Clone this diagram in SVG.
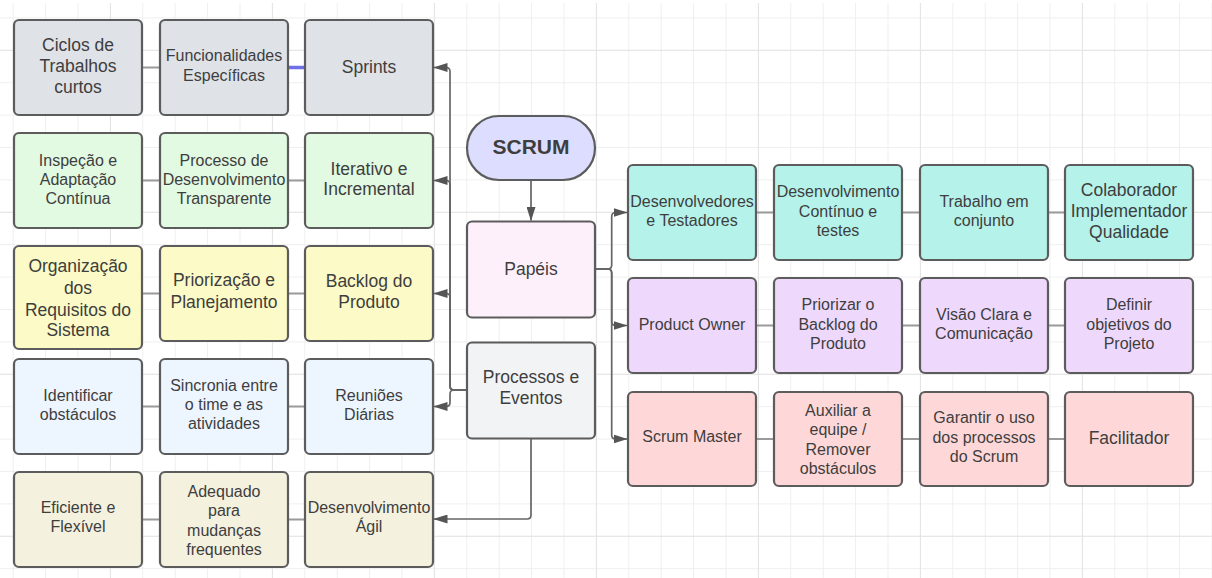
<svg xmlns="http://www.w3.org/2000/svg" width="1212" height="578" viewBox="0 0 1212 578">
<style>
.box{stroke:#5c5c5c;stroke-width:2.2}
.t{font-family:"Liberation Sans",Arial,sans-serif;fill:#3e3e3e;text-anchor:middle}
.s16{font-size:16px}
.s17{font-size:17.5px}
.b{font-weight:bold;font-size:21px}
.gray{fill:#dfe2e7}.green{fill:#e2f9e2}.yellow{fill:#fcfac6}.blue{fill:#edf5ff}.beige{fill:#f4f1df}
.teal{fill:#b5f2ea}.purple{fill:#eed9fd}.pink{fill:#fed8d8}
.link{stroke:#9a9a9a;stroke-width:2;fill:none}
.conn{stroke:#666;stroke-width:1.7;fill:none}
</style>
<defs>
<pattern id="gmin" patternUnits="userSpaceOnUse" x="12.7" y="17.4" width="32.4" height="32.4">
<path d="M0.5,0 V32.4 M0,0.5 H32.4" stroke="#efefef" stroke-width="1" fill="none"/>
</pattern>
<pattern id="gmaj" patternUnits="userSpaceOnUse" x="109.9" y="49.8" width="162" height="162">
<path d="M0.5,0 V162 M0,0.5 H162" stroke="#e4e4e4" stroke-width="1" fill="none"/>
</pattern>
<marker id="arr" markerUnits="userSpaceOnUse" viewBox="0 0 14 9" markerWidth="14" markerHeight="9" refX="13.5" refY="4.5" orient="auto">
<path d="M0,0 L14,4.5 L0,9 Z" fill="#555"/>
</marker>
</defs>
<rect width="1212" height="578" fill="#ffffff"/>
<rect y="3" width="1212" height="575" fill="url(#gmin)"/>
<rect y="3" width="1212" height="575" fill="url(#gmaj)"/>

<g id="connectors">
<path class="link" d="M143,67.5 H159"/>
<path d="M289,67.5 H304" stroke="#6f6fe6" stroke-width="3.5" fill="none"/>
<path class="link" d="M143,180.5 H159 M289,180.5 H304"/>
<path class="link" d="M143,293.5 H159 M289,293.5 H304"/>
<path class="link" d="M143,406.5 H159 M289,406.5 H304"/>
<path class="link" d="M143,519.5 H159 M289,519.5 H304"/>
<path class="link" d="M757,212.5 H773 M903,212.5 H919 M1048,212.5 H1064"/>
<path class="link" d="M757,325.5 H773 M903,325.5 H919 M1048,325.5 H1064"/>
<path class="link" d="M757,439 H773 M903,439 H919 M1048,439 H1064"/>
<path class="conn" d="M531,181 V220.5" marker-end="url(#arr)"/>
<path class="conn" d="M466,390 H454 Q450,390 450,386 V71.5 Q450,67.5 446,67.5 H434" marker-end="url(#arr)"/>
<path class="conn" d="M466,390 H454 Q450,390 450,386 V184.5 Q450,180.5 446,180.5 H434" marker-end="url(#arr)"/>
<path class="conn" d="M466,390 H454 Q450,390 450,386 V297.5 Q450,293.5 446,293.5 H434" marker-end="url(#arr)"/>
<path class="conn" d="M466,390 H454 Q450,390 450,394 V402.5 Q450,406.5 446,406.5 H434" marker-end="url(#arr)"/>
<path class="conn" d="M531,439 V515 Q531,519 527,519 H434" marker-end="url(#arr)"/>
<path class="conn" d="M596,269 H607.7 Q611.7,269 611.7,265 V216.5 Q611.7,212.5 615.7,212.5 H627" marker-end="url(#arr)"/>
<path class="conn" d="M596,269 H607.7 Q611.7,269 611.7,273 V321.5 Q611.7,325.5 615.7,325.5 H627" marker-end="url(#arr)"/>
<path class="conn" d="M596,269 H607.7 Q611.7,269 611.7,273 V435 Q611.7,439 615.7,439 H627" marker-end="url(#arr)"/>
</g>

<g id="ciclos"><rect class="box gray" x="14" y="20" width="128" height="95" rx="5"/>
<text class="t s17" x="78"><tspan x="78" y="51.3">Ciclos de</tspan><tspan x="78" y="72.3">Trabalhos</tspan><tspan x="78" y="93.3">curtos</tspan></text></g>
<g id="funcionalidades"><rect class="box gray" x="160" y="20" width="128" height="95" rx="5"/>
<text class="t s16"><tspan x="224" y="60.7">Funcionalidades</tspan><tspan x="224" y="80.7">Específicas</tspan></text></g>
<g id="sprints"><rect class="box gray" x="305" y="20" width="128" height="95" rx="5"/>
<text class="t s17" x="369" y="73">Sprints</text></g>

<g id="inspecao"><rect class="box green" x="14" y="133" width="128" height="95" rx="5"/>
<text class="t s16"><tspan x="78" y="165.7">Inspeção e</tspan><tspan x="78" y="184.7">Adaptação</tspan><tspan x="78" y="204">Contínua</tspan></text></g>
<g id="processo"><rect class="box green" x="160" y="133" width="128" height="95" rx="5"/>
<text class="t s16"><tspan x="224" y="165.7">Processo de</tspan><tspan x="224" y="184.7">Desenvolvimento</tspan><tspan x="224" y="204">Transparente</tspan></text></g>
<g id="iterativo"><rect class="box green" x="305" y="133" width="128" height="95" rx="5"/>
<text class="t s17"><tspan x="369" y="174.6">Iterativo e</tspan><tspan x="369" y="195.3">Incremental</tspan></text></g>

<g id="organizacao"><rect class="box yellow" x="14" y="246" width="128" height="103" rx="5"/>
<text class="t s17"><tspan x="78" y="272.3">Organização</tspan><tspan x="78" y="293.6">dos</tspan><tspan x="78" y="315.6">Requisitos do</tspan><tspan x="78" y="336.3">Sistema</tspan></text></g>
<g id="priorizacao"><rect class="box yellow" x="160" y="246" width="128" height="95" rx="5"/>
<text class="t s17"><tspan x="224" y="286.3">Priorização e</tspan><tspan x="224" y="308">Planejamento</tspan></text></g>
<g id="backlog"><rect class="box yellow" x="305" y="246" width="128" height="95" rx="5"/>
<text class="t s17"><tspan x="369" y="287">Backlog do</tspan><tspan x="369" y="308">Produto</tspan></text></g>

<g id="identificar"><rect class="box blue" x="14" y="359" width="128" height="95" rx="5"/>
<text class="t s16"><tspan x="78" y="400.7">Identificar</tspan><tspan x="78" y="419.7">obstáculos</tspan></text></g>
<g id="sincronia"><rect class="box blue" x="160" y="359" width="128" height="95" rx="5"/>
<text class="t s16"><tspan x="224" y="390.7">Sincronia entre</tspan><tspan x="224" y="410">o time e as</tspan><tspan x="224" y="429">atividades</tspan></text></g>
<g id="reunioes"><rect class="box blue" x="305" y="359" width="128" height="95" rx="5"/>
<text class="t s16"><tspan x="369" y="400.7">Reuniões</tspan><tspan x="369" y="419.7">Diárias</tspan></text></g>

<g id="eficiente"><rect class="box beige" x="14" y="472" width="128" height="95" rx="5"/>
<text class="t s16"><tspan x="78" y="513.4">Eficiente e</tspan><tspan x="78" y="532.4">Flexível</tspan></text></g>
<g id="adequado"><rect class="box beige" x="160" y="472" width="128" height="95" rx="5"/>
<text class="t s16"><tspan x="224" y="496.7">Adequado</tspan><tspan x="224" y="516.4">para</tspan><tspan x="224" y="535.7">mudanças</tspan><tspan x="224" y="554.7">frequentes</tspan></text></g>
<g id="agil"><rect class="box beige" x="305" y="472" width="128" height="95" rx="5"/>
<text class="t s16"><tspan x="369" y="513.4">Desenvolvimento</tspan><tspan x="369" y="532.4">Ágil</tspan></text></g>

<g id="scrum"><rect class="box" fill="#dddeff" x="467" y="116" width="128" height="64" rx="32"/>
<text class="t b" x="531" y="153.5">SCRUM</text></g>
<g id="papeis"><rect class="box" fill="#fef0fa" x="467" y="221.5" width="128" height="96" rx="5"/>
<text class="t s17" x="531" y="274.6">Papéis</text></g>
<g id="processos"><rect class="box" fill="#f2f3f5" x="467" y="342.5" width="128" height="96" rx="5"/>
<text class="t s17"><tspan x="531" y="383">Processos e</tspan><tspan x="531" y="404">Eventos</tspan></text></g>

<g id="desenvolvedores"><rect class="box teal" x="628" y="165" width="128" height="95" rx="5"/>
<text class="t s16"><tspan x="692" y="206.7">Desenvolvedores</tspan><tspan x="692" y="226.4">e Testadores</tspan></text></g>
<g id="continuo"><rect class="box teal" x="774" y="165" width="128" height="95" rx="5"/>
<text class="t s16"><tspan x="838" y="197.4">Desenvolvimento</tspan><tspan x="838" y="216.7">Contínuo e</tspan><tspan x="838" y="235.7">testes</tspan></text></g>
<g id="trabalho"><rect class="box teal" x="920" y="165" width="128" height="95" rx="5"/>
<text class="t s16"><tspan x="984" y="206.7">Trabalho em</tspan><tspan x="984" y="226.4">conjunto</tspan></text></g>
<g id="colaborador"><rect class="box teal" x="1065" y="165" width="128" height="95" rx="5"/>
<text class="t s17"><tspan x="1129" y="195.6">Colaborador</tspan><tspan x="1129" y="217.3">Implementador</tspan><tspan x="1129" y="238">Qualidade</tspan></text></g>

<g id="po"><rect class="box purple" x="628" y="278" width="128" height="95" rx="5"/>
<text class="t s16" x="692" y="329.5">Product Owner</text></g>
<g id="priorizar"><rect class="box purple" x="774" y="278" width="128" height="95" rx="5"/>
<text class="t s16"><tspan x="838" y="309.7">Priorizar o</tspan><tspan x="838" y="329.7">Backlog do</tspan><tspan x="838" y="349">Produto</tspan></text></g>
<g id="visao"><rect class="box purple" x="920" y="278" width="128" height="95" rx="5"/>
<text class="t s16"><tspan x="984" y="319.7">Visão Clara e</tspan><tspan x="984" y="339">Comunicação</tspan></text></g>
<g id="definir"><rect class="box purple" x="1065" y="278" width="128" height="95" rx="5"/>
<text class="t s16"><tspan x="1129" y="309.7">Definir</tspan><tspan x="1129" y="329.7">objetivos do</tspan><tspan x="1129" y="349">Projeto</tspan></text></g>

<g id="sm"><rect class="box pink" x="628" y="392" width="128" height="94" rx="5"/>
<text class="t s16" x="692" y="442.4">Scrum Master</text></g>
<g id="auxiliar"><rect class="box pink" x="774" y="392" width="128" height="94" rx="5"/>
<text class="t s16"><tspan x="838" y="415.7">Auxiliar a</tspan><tspan x="838" y="435">equipe /</tspan><tspan x="838" y="454.7">Remover</tspan><tspan x="838" y="474">obstáculos</tspan></text></g>
<g id="garantir"><rect class="box pink" x="920" y="392" width="128" height="94" rx="5"/>
<text class="t s16"><tspan x="984" y="423.4">Garantir o uso</tspan><tspan x="984" y="443">dos processos</tspan><tspan x="984" y="461.7">do Scrum</tspan></text></g>
<g id="facilitador"><rect class="box pink" x="1065" y="392" width="128" height="94" rx="5"/>
<text class="t s17" x="1129" y="443.6">Facilitador</text></g>
</svg>
